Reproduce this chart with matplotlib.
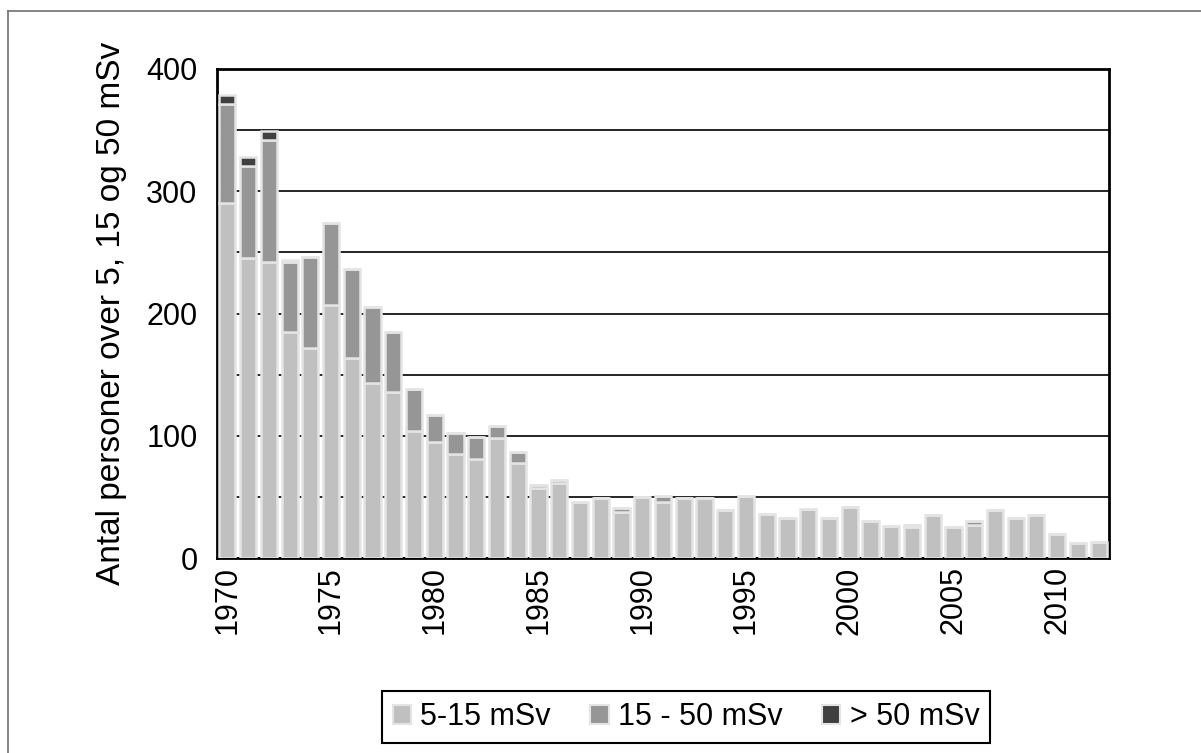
import matplotlib
matplotlib.use("Agg")
import matplotlib.pyplot as plt
import numpy as np
from matplotlib.lines import Line2D

plt.rcParams['font.family'] = ['Liberation Sans', 'DejaVu Sans']

years = list(range(1970, 2013))

# 5-15 mSv
low = [290, 245, 242, 185, 172, 207, 164, 143, 136, 104,
       95, 85, 81, 98, 78, 57, 61, 46, 49, 38,
       50, 46, 49, 49, 39, 51, 36, 33, 40, 33,
       42, 30, 26, 25, 35, 25, 27, 39, 33, 35,
       20, 12, 13]
# 15 - 50 mSv
mid = [81, 76, 100, 57, 74, 67, 72, 62, 49, 34,
       22, 17, 18, 10, 9, 3, 3, 0, 0, 3,
       0, 5, 0, 0, 0, 0, 0, 0, 0, 0,
       0, 0, 0, 2, 0, 0, 3, 0, 0, 0,
       0, 0, 0]
# > 50 mSv
high = [8, 7, 7, 2, 0, 0, 0, 0, 0, 0,
        0, 0, 0, 0, 0, 0, 0, 0, 0, 0,
        0, 0, 0, 0, 0, 0, 0, 0, 0, 0,
        0, 0, 0, 0, 0, 0, 0, 0, 0, 0,
        0, 0, 0]

labels = ['5-15 mSv', '15 - 50 mSv', '> 50 mSv']
colors = ['#c0c0c0', '#969696', '#404040']
edge = '#e4e4e4'

fig = plt.figure(figsize=(12.01, 7.53), dpi=100)
ax = fig.add_axes([217 / 1201, 1 - 558 / 753, 892 / 1201, 489 / 753])

x = np.arange(len(years))
low = np.array(low)
mid = np.array(mid)
high = np.array(high)

ax.bar(x, low, width=0.78, color=colors[0], edgecolor=edge, linewidth=1.8, zorder=3)
ax.bar(x, mid, bottom=low, width=0.78, color=colors[1], edgecolor=edge, linewidth=1.8, zorder=3)
ax.bar(x, high, bottom=low + mid, width=0.78, color=colors[2], edgecolor=edge, linewidth=1.8, zorder=3)

ax.set_xlim(-0.5, len(years) - 0.5)
ax.set_ylim(0, 400)
ax.set_yticks(range(0, 401, 100))
ax.set_yticks(range(50, 400, 100), minor=True)
ax.yaxis.grid(True, which='both', color='black', linewidth=1.2, zorder=0)
ax.set_axisbelow(True)

ticks = [i for i, y in enumerate(years) if y % 5 == 0]
ax.set_xticks(ticks)
ax.set_xticklabels([str(years[i]) for i in ticks], rotation=90, fontsize=22)
ax.tick_params(axis='y', labelsize=22, length=0, pad=14)
ax.tick_params(axis='y', which='minor', length=0)
ax.tick_params(axis='x', length=0, pad=6)

for s in ax.spines.values():
    s.set_linewidth(2)
    s.set_color('black')

ax.set_ylabel('Antal personer over 5, 15 og 50 mSv', fontsize=24, labelpad=14)

handles = [plt.Rectangle((0, 0), 1, 1, facecolor=c, edgecolor=edge, linewidth=1.5) for c in colors]
leg = fig.legend(handles, labels, loc='upper center', bbox_to_anchor=(686 / 1201, 1 - 676 / 753),
                 ncol=3, fontsize=22, frameon=True, fancybox=False, edgecolor='black',
                 framealpha=1, handlelength=0.6, handleheight=0.6, handletextpad=0.3,
                 columnspacing=1.3, borderpad=0.35)
leg.get_frame().set_linewidth(1.5)

# outer figure border (top and left visible)
fig.add_artist(Line2D([8 / 1201, 1], [1 - 11 / 753, 1 - 11 / 753], color='#707070', linewidth=1.2))
fig.add_artist(Line2D([8 / 1201, 8 / 1201], [0, 1 - 11 / 753], color='#707070', linewidth=1.2))

fig.savefig('out.png', dpi=100)
